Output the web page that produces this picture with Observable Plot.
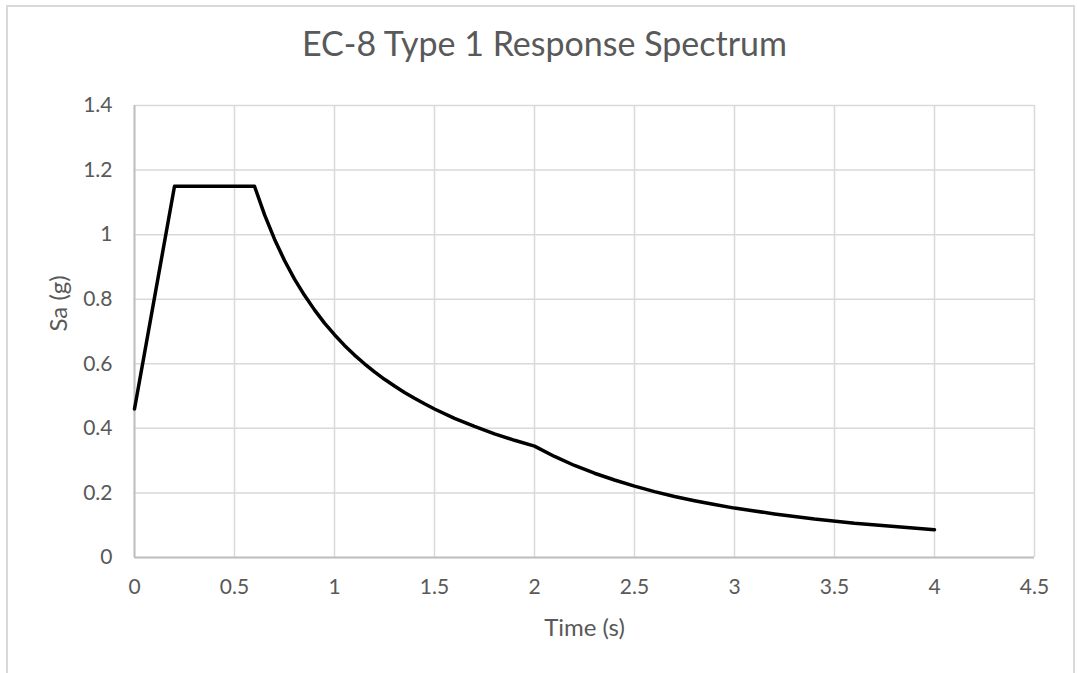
<!DOCTYPE html>
<html>
<head>
<meta charset="utf-8">
<script src="https://cdn.jsdelivr.net/npm/d3@7"></script>
<script src="https://cdn.jsdelivr.net/npm/@observablehq/plot@0.6"></script>
<style>
  html, body { margin: 0; padding: 0; background: #fff; overflow: hidden; }
  #wrap { position: relative; width: 1077px; height: 673px; }
  #border { position: absolute; left: 6px; top: 5px; width: 1069px; height: 700px;
            border-left: 2px solid #d9d9d9; border-top: 2px solid #d9d9d9; border-right: 2px solid #d9d9d9; box-sizing: border-box; }
  #chart { position: absolute; left: 0; top: 0; }
</style>
</head>
<body>
<div id="wrap"><div id="border"></div><div id="chart"></div></div>
<script>
const periods = [0, 0.2, 0.6, 0.65, 0.7, 0.75, 0.8, 0.85, 0.9, 0.95, 1.0, 1.05, 1.1, 1.15, 1.2, 1.25, 1.3, 1.35, 1.4, 1.45, 1.5, 1.6, 1.7, 1.8, 1.9, 2.0, 2.1, 2.2, 2.3, 2.4, 2.5, 2.6, 2.7, 2.8, 2.9, 3.0, 3.2, 3.4, 3.6, 3.8, 4.0];
const sa = [0.46, 1.15, 1.15, 1.062, 0.986, 0.92, 0.862, 0.812, 0.767, 0.726, 0.69, 0.657, 0.627, 0.6, 0.575, 0.552, 0.531, 0.511, 0.493, 0.476, 0.46, 0.431, 0.406, 0.383, 0.363, 0.345, 0.313, 0.285, 0.261, 0.240, 0.221, 0.204, 0.189, 0.176, 0.164, 0.153, 0.135, 0.119, 0.106, 0.096, 0.086];
const xTicks = [0, 0.5, 1, 1.5, 2, 2.5, 3, 3.5, 4, 4.5];
const yTicks = [0, 0.2, 0.4, 0.6, 0.8, 1, 1.2, 1.4];
const titleText = "EC-8 Type 1 Response Spectrum";
const xLabel = "Time (s)";
const yLabel = "Sa (g)";

const data = periods.map((t, i) => ({t, v: sa[i]}));
const font = "Lato, 'Open Sans', sans-serif";
const grey = "#595959";

const chart = Plot.plot({
  width: 1077,
  height: 673,
  marginLeft: 134,
  marginRight: 43,
  marginTop: 105,
  marginBottom: 116,
  style: { fontFamily: font, background: "transparent", color: grey },
  x: { domain: [0, 4.5] },
  y: { domain: [0, 1.4] },
  marks: [
    Plot.gridX(xTicks, { stroke: "#d9d9d9", strokeOpacity: 1, strokeWidth: 1.5 }),
    Plot.gridY(yTicks, { stroke: "#d9d9d9", strokeOpacity: 1, strokeWidth: 1.5 }),
    Plot.ruleX([0], { stroke: "#bfbfbf", strokeWidth: 2 }),
    Plot.ruleY([0], { stroke: "#bfbfbf", strokeWidth: 2 }),
    Plot.axisX(xTicks, { tickSize: 0, tickPadding: 22, fontSize: 21, fill: grey, tickFormat: d => String(d), label: null }),
    Plot.axisY(yTicks, { tickSize: 0, tickPadding: 22, fontSize: 21, fill: grey, tickFormat: d => String(d), label: null }),
    Plot.line(data, { x: "t", y: "v", stroke: "#000", strokeWidth: 3.5, strokeLinejoin: "round", strokeLinecap: "round" }),
    Plot.text([titleText], { frameAnchor: "top", dx: -40, dy: -60, lineAnchor: "middle", fontSize: 34, fill: grey }),
    Plot.text([xLabel], { frameAnchor: "bottom", dy: 71, lineAnchor: "middle", fontSize: 24, fill: grey }),
    Plot.text([yLabel], { frameAnchor: "left", dx: -75, rotate: -90, lineAnchor: "middle", fontSize: 24, fill: grey })
  ]
});
document.getElementById("chart").appendChild(chart);
</script>
</body>
</html>
